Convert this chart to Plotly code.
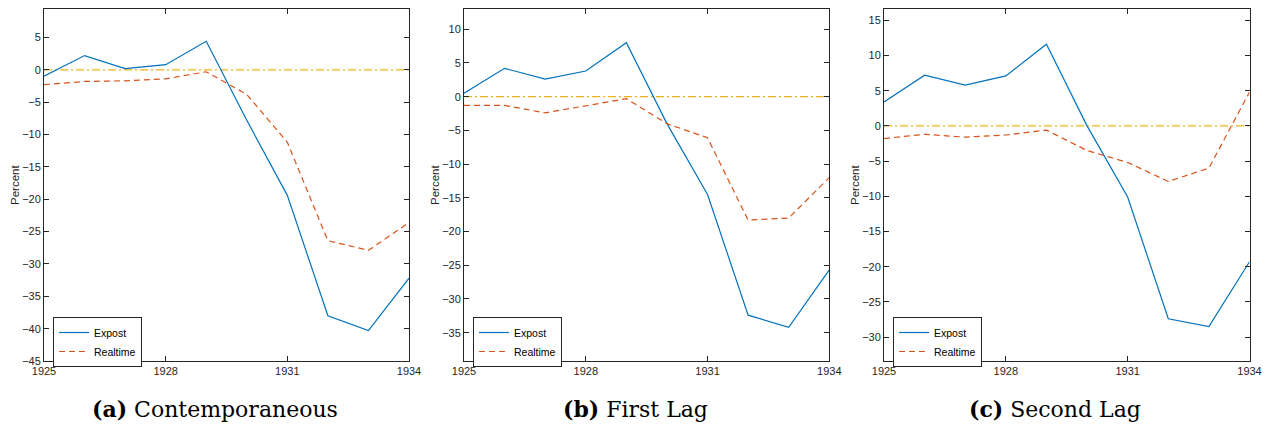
import plotly.graph_objects as go

years = [1925, 1926, 1927, 1928, 1929, 1930, 1931, 1932, 1933, 1934]

expost_a = [-1.0, 2.2, 0.2, 0.8, 4.4, -7.8, -19.4, -38.0, -40.3, -32.2]
realtime_a = [-2.3, -1.8, -1.7, -1.4, -0.3, -3.8, -11.2, -26.4, -27.9, -23.6]

expost_b = [0.5, 4.2, 2.6, 3.8, 8.0, -4.0, -14.5, -32.4, -34.2, -25.7]
realtime_b = [-1.3, -1.3, -2.4, -1.4, -0.3, -4.0, -6.1, -18.3, -18.0, -12.0]

expost_c = [3.4, 7.2, 5.8, 7.1, 11.6, 0.0, -10.1, -27.4, -28.5, -19.3]
realtime_c = [-1.8, -1.2, -1.6, -1.3, -0.6, -3.5, -5.2, -7.9, -6.0, 4.8]

captions_bold = ["(a)", "(b)", "(c)"]
captions = ["Contemporaneous", "First Lag", "Second Lag"]
xticks = [1925, 1928, 1931, 1934]
yranges = [[-45, 9.4], [-39.2, 13.0], [-33.4, 16.6]]
ytick_sets = [list(range(-45, 10, 5)), list(range(-35, 15, 5)), list(range(-30, 20, 5))]

W, H = 1270, 428
xdoms = [(44, 409), (464, 829.3), (884, 1249.5)]
caption_centers = [215, 635, 1055]
ytop, ybot = 9, 361

BLUE = "#0072BD"
ORANGE = "#D95319"
YELLOW = "#EDB120"
AX = "#262626"

fig = go.Figure()
series = [(expost_a, realtime_a), (expost_b, realtime_b), (expost_c, realtime_c)]
for i, (ex, rt) in enumerate(series):
    xa = "x" if i == 0 else f"x{i+1}"
    ya = "y" if i == 0 else f"y{i+1}"
    lg = "legend" if i == 0 else f"legend{i+1}"
    fig.add_trace(go.Scatter(x=[years[0], years[-1]], y=[0, 0], mode="lines", showlegend=False,
                             line=dict(color=YELLOW, width=1.2, dash="8px,3px,2px,3px"), xaxis=xa, yaxis=ya))
    fig.add_trace(go.Scatter(x=years, y=ex, mode="lines", name="Expost",
                             line=dict(color=BLUE, width=1.2), xaxis=xa, yaxis=ya, legend=lg))
    fig.add_trace(go.Scatter(x=years, y=rt, mode="lines", name="Realtime",
                             line=dict(color=ORANGE, width=1.2, dash="6px,4px"), xaxis=xa, yaxis=ya, legend=lg))

layout = dict(width=W, height=H, margin=dict(l=0, r=0, t=0, b=0, autoexpand=False),
              paper_bgcolor="white", plot_bgcolor="white",
              font=dict(family="Liberation Sans, Arial, sans-serif", size=11, color=AX))
annotations = []
for i in range(3):
    sx = "" if i == 0 else str(i + 1)
    x0, x1 = xdoms[i]
    layout[f"xaxis{sx}"] = dict(domain=[x0 / W, x1 / W], anchor=f"y{sx}", range=[1925, 1934],
                                tickvals=xticks, ticktext=[str(t) for t in xticks],
                                ticks="inside", ticklen=5, tickcolor=AX, tickwidth=1,
                                showline=True, linecolor=AX, linewidth=1, mirror="ticks",
                                showgrid=False, zeroline=False, automargin=False,
                                tickfont=dict(size=11, color=AX))
    layout[f"yaxis{sx}"] = dict(domain=[1 - ybot / H, 1 - ytop / H], anchor=f"x{sx}",
                                range=yranges[i], tickvals=ytick_sets[i],
                                ticks="inside", ticklen=5, tickcolor=AX, tickwidth=1,
                                showline=True, linecolor=AX, linewidth=1, mirror="ticks",
                                showgrid=False, zeroline=False, automargin=False,
                                tickfont=dict(size=11, color=AX))
    lg = "legend" if i == 0 else f"legend{i+1}"
    layout[lg] = dict(x=(x0 + 9) / W, y=1 - 317 / H, xanchor="left", yanchor="top",
                      bgcolor="white", bordercolor=AX, borderwidth=1,
                      font=dict(size=10.5, color="black"), tracegroupgap=0,
                      itemwidth=30)
    annotations.append(dict(x=(x0 - 29) / W, y=1 - ((ytop + ybot) / 2) / H, xref="paper", yref="paper",
                            xanchor="center", yanchor="middle", showarrow=False, textangle=-90,
                            text="Percent", font=dict(size=11.5, color=AX)))
    annotations.append(dict(x=caption_centers[i] / W, y=1 - 409 / H, xref="paper", yref="paper",
                            xanchor="center", yanchor="middle", showarrow=False,
                            text=f"<b>{captions_bold[i]}</b> {captions[i]}",
                            font=dict(family="DejaVu Serif, serif", size=22, color="black")))
layout["annotations"] = annotations
fig.update_layout(**layout)
fig.write_html("out.html", config={"displayModeBar": False},
               post_script="document.body.style.margin='0';document.body.style.padding='0';")
